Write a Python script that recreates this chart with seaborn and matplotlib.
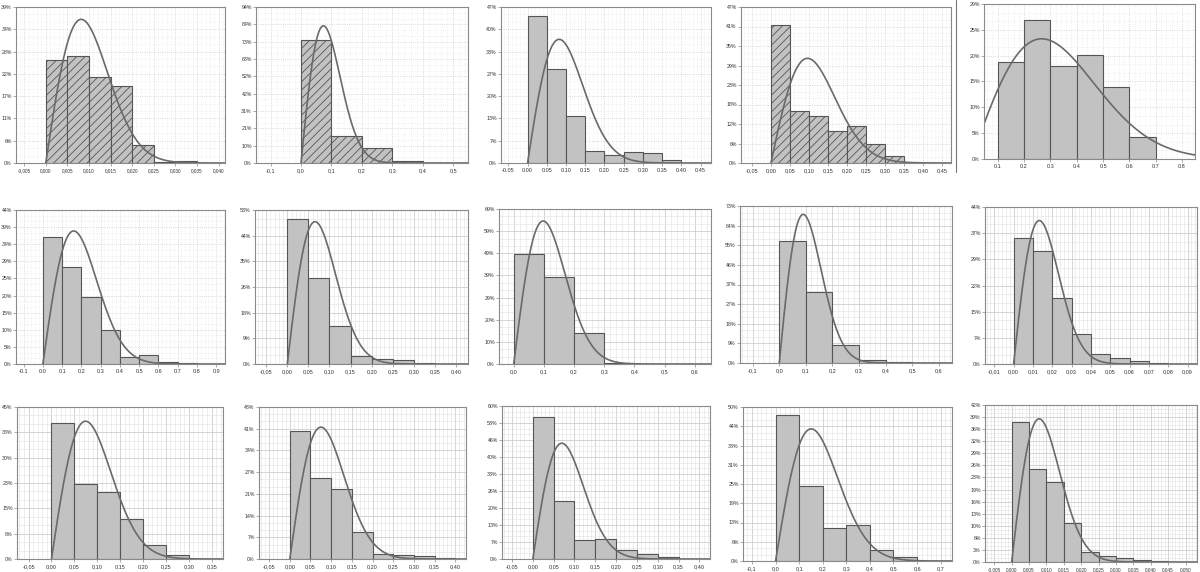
import numpy as np
import pandas as pd
import matplotlib
matplotlib.use('Agg')
import matplotlib.pyplot as plt
import seaborn as sns
from matplotlib.ticker import MultipleLocator, AutoMinorLocator, FixedLocator, FuncFormatter

sns.set_style('white')
plt.rcParams['font.family'] = ['Liberation Sans', 'DejaVu Sans']
plt.rcParams['hatch.color'] = '#858585'
plt.rcParams['hatch.linewidth'] = 0.6

# bar heights (% of observations), one list per panel, left to right, top to bottom
h_r1c1 = [26.0, 26.8, 21.7, 19.3, 4.4, 0.2, 0.5]
h_r1c2 = [74.4, 16.1, 8.9, 1.0]
h_r1c3 = [44.1, 28.2, 14.0, 3.7, 2.5, 3.3, 2.9, 1.0]
h_r1c4 = [41.4, 15.7, 14.2, 9.6, 11.0, 5.8, 2.1]
h_r1c5 = [18.4, 26.4, 17.6, 19.7, 13.6, 4.1]
h_r2c1 = [36.3, 27.9, 19.2, 9.8, 2.1, 2.6, 0.5, 0.3]
h_r2c2 = [49.8, 29.4, 12.9, 2.8, 1.7, 1.4, 0.2]
h_r2c3 = [48.7, 38.3, 13.6, 0.6]
h_r2c4 = [56.7, 33.0, 8.5, 1.4, 0.5]
h_r2c5 = [35.3, 31.7, 18.6, 8.4, 2.8, 1.6, 0.8, 0.3]
h_r3c1 = [40.2, 22.3, 19.8, 11.8, 4.2, 1.1]
h_r3c2 = [40.3, 25.6, 22.0, 8.5, 1.6, 1.3, 1.0, 0.2]
h_r3c3 = [55.2, 22.5, 7.3, 7.8, 3.5, 1.9, 0.6]
h_r3c4 = [47.3, 24.5, 10.6, 11.7, 3.6, 1.4]
h_r3c5 = [37.4, 24.8, 21.4, 10.4, 2.7, 1.5, 1.2, 0.5, 0.2]
heights = [h_r1c1, h_r1c2, h_r1c3, h_r1c4, h_r1c5,
           h_r2c1, h_r2c2, h_r2c3, h_r2c4, h_r2c5,
           h_r3c1, h_r3c2, h_r3c3, h_r3c4, h_r3c5]

bin_start = [0.0, 0.0, 0.0, 0.0, 0.1, 0.0, 0.0, 0.0, 0.0, 0.0, 0.0, 0.0, 0.0, 0.0, 0.0]
bin_width = [0.005, 0.1, 0.05, 0.05, 0.1, 0.1, 0.05, 0.1, 0.1, 0.01, 0.05, 0.05, 0.05, 0.1, 0.005]

# fitted (Rayleigh-type) curve: mode and peak height in %
fit_mode = [0.0082, 0.0736, 0.0822, 0.096, 0.267, 0.16, 0.0657, 0.0976, 0.09, 0.0133,
            0.0745, 0.0752, 0.0696, 0.151, 0.0079]
fit_peak = [36.1, 82.7, 37.0, 31.4, 22.8, 38.1, 48.8, 63.3, 69.3, 40.2,
            40.8, 41.6, 45.1, 42.9, 38.3]

# axis ranges and tick labels
x_lim = [(-0.0069, 0.0415), (-0.148, 0.549), (-0.069, 0.477), (-0.0787, 0.473), (0.048, 0.849),
         (-0.1397, 0.946), (-0.0766, 0.4285), (-0.0488, 0.654), (-0.1475, 0.649), (-0.0148, 0.0949),
         (-0.0753, 0.3748), (-0.0744, 0.426), (-0.074, 0.4256), (-0.138, 0.748), (-0.00767, 0.0533)]
x_step = [0.005, 0.1, 0.05, 0.05, 0.1, 0.1, 0.05, 0.1, 0.1, 0.01, 0.05, 0.05, 0.05, 0.1, 0.005]
x_dec = [3, 1, 2, 2, 1, 1, 2, 1, 1, 2, 2, 2, 2, 1, 3]
x_comma = [True, True, False, True, False, False, True, True, True, True,
           True, True, True, True, True]
y_top = [39.2, 94.05, 46.67, 46.8, 29.4, 44.1, 52.8, 68.6, 73.2, 44.0,
         45.0, 47.95, 59.6, 50.0, 42.0]
y_labels = [[0, 6, 11, 17, 22, 28, 34, 39],
            [0, 10, 21, 31, 42, 52, 63, 73, 84, 94],
            [0, 7, 13, 20, 27, 33, 40, 47],
            [0, 6, 12, 18, 23, 29, 35, 41, 47],
            [0, 5, 10, 15, 20, 25, 29],
            [0, 5, 10, 15, 20, 25, 29, 34, 39, 44],
            [0, 9, 18, 26, 35, 44, 53],
            [0, 10, 20, 29, 39, 49, 59, 69],
            [0, 9, 18, 27, 37, 46, 55, 64, 73],
            [0, 7, 15, 22, 29, 37, 44],
            [0, 8, 15, 23, 30, 38, 45],
            [0, 7, 14, 21, 27, 34, 41, 48],
            [0, 7, 13, 20, 26, 33, 40, 46, 53, 60],
            [0, 6, 13, 19, 25, 31, 38, 44, 50],
            [0, 3, 6, 10, 13, 16, 19, 23, 26, 29, 32, 36, 39, 42]]
hatched = [True, True, False, True, False, False, False, False, False, False,
           False, False, False, False, False]
dotted = [True, True, True, True, True, True, False, False, False, False,
          False, False, False, False, False]

# panel boxes in pixels (left, top, right, bottom)
boxes = [(16, 7, 225, 163), (256, 7, 468, 163), (501, 7, 711, 163), (741, 7, 951, 163), (984, 4, 1195, 159),
         (16, 210, 225, 364), (255, 210, 468, 364), (499, 209, 711, 364), (740, 206, 952, 363), (985, 207, 1197, 364),
         (17, 407, 223, 559), (259, 407, 466, 559), (502, 406, 710, 559), (743, 407, 952, 561), (985, 405, 1197, 562)]

W, H = 1200, 572
fig = plt.figure(figsize=(W / 100, H / 100), dpi=100)


def xfmt(dec, comma):
    def f(v, pos):
        s = f'{v:.{dec}f}'
        if float(s) == 0:
            s = f'{0:.{dec}f}'
        return s.replace('.', ',') if comma else s
    return FuncFormatter(f)


for i in range(15):
    l, t, r, b = boxes[i]
    ax = fig.add_axes([l / W, 1 - b / H, (r - l) / W, (b - t) / H])
    h = heights[i]
    edges = [bin_start[i] + bin_width[i] * k for k in range(len(h) + 1)]
    df = pd.DataFrame({'x': [(edges[k] + edges[k + 1]) / 2 for k in range(len(h))], 'w': h})
    kw = {'hatch': '////'} if hatched[i] else {}
    sns.histplot(data=df, x='x', weights='w', bins=edges, ax=ax, color='#c2c2c2',
                 edgecolor='#555555', linewidth=0.8, alpha=1, **kw)

    x0 = max(0.0, x_lim[i][0])
    xs = np.linspace(x0, x_lim[i][1], 300)
    u = xs / fit_mode[i]
    ys = fit_peak[i] * u * np.exp(0.5 * (1 - u ** 2))
    sns.lineplot(x=xs, y=ys, ax=ax, color='#6a6a6a', linewidth=1.2)

    ax.set_xlim(*x_lim[i])
    ax.set_ylim(0, y_top[i])
    ax.xaxis.set_major_locator(MultipleLocator(x_step[i]))
    ax.xaxis.set_major_formatter(xfmt(x_dec[i], x_comma[i]))
    yt = np.linspace(0, y_top[i], len(y_labels[i]))
    ax.yaxis.set_major_locator(FixedLocator(yt))
    ax.set_yticklabels([f'{v}%' for v in y_labels[i]])
    ax.xaxis.set_minor_locator(AutoMinorLocator(5))
    ax.yaxis.set_minor_locator(AutoMinorLocator(3))
    ls = ':' if dotted[i] else '-'
    ax.grid(which='major', color='#cdcdcd', linewidth=0.6, linestyle=ls)
    ax.grid(which='minor', color='#e2e2e2', linewidth=0.4, linestyle=ls)
    ax.set_axisbelow(True)
    ax.set_xlabel('')
    ax.set_ylabel('')
    xsize = 3.4 if x_dec[i] == 3 else 4.0
    ax.tick_params(which='major', length=2, width=0.5, color='#888888',
                   labelcolor='#333333', pad=1.5, bottom=True, left=True)
    ax.tick_params(axis='x', labelsize=xsize)
    ax.tick_params(axis='y', labelsize=3.8, pad=1)
    ax.tick_params(which='minor', length=0)
    for sp in ax.spines.values():
        sp.set_color('#8a8a8a')
        sp.set_linewidth(0.8)

# thin separator line right of the fourth top panel
fig.add_artist(plt.Line2D([956 / W, 956 / W], [1 - 172 / H, 1.0], color='#777777', linewidth=0.8))

fig.savefig('out.png', dpi=100)
